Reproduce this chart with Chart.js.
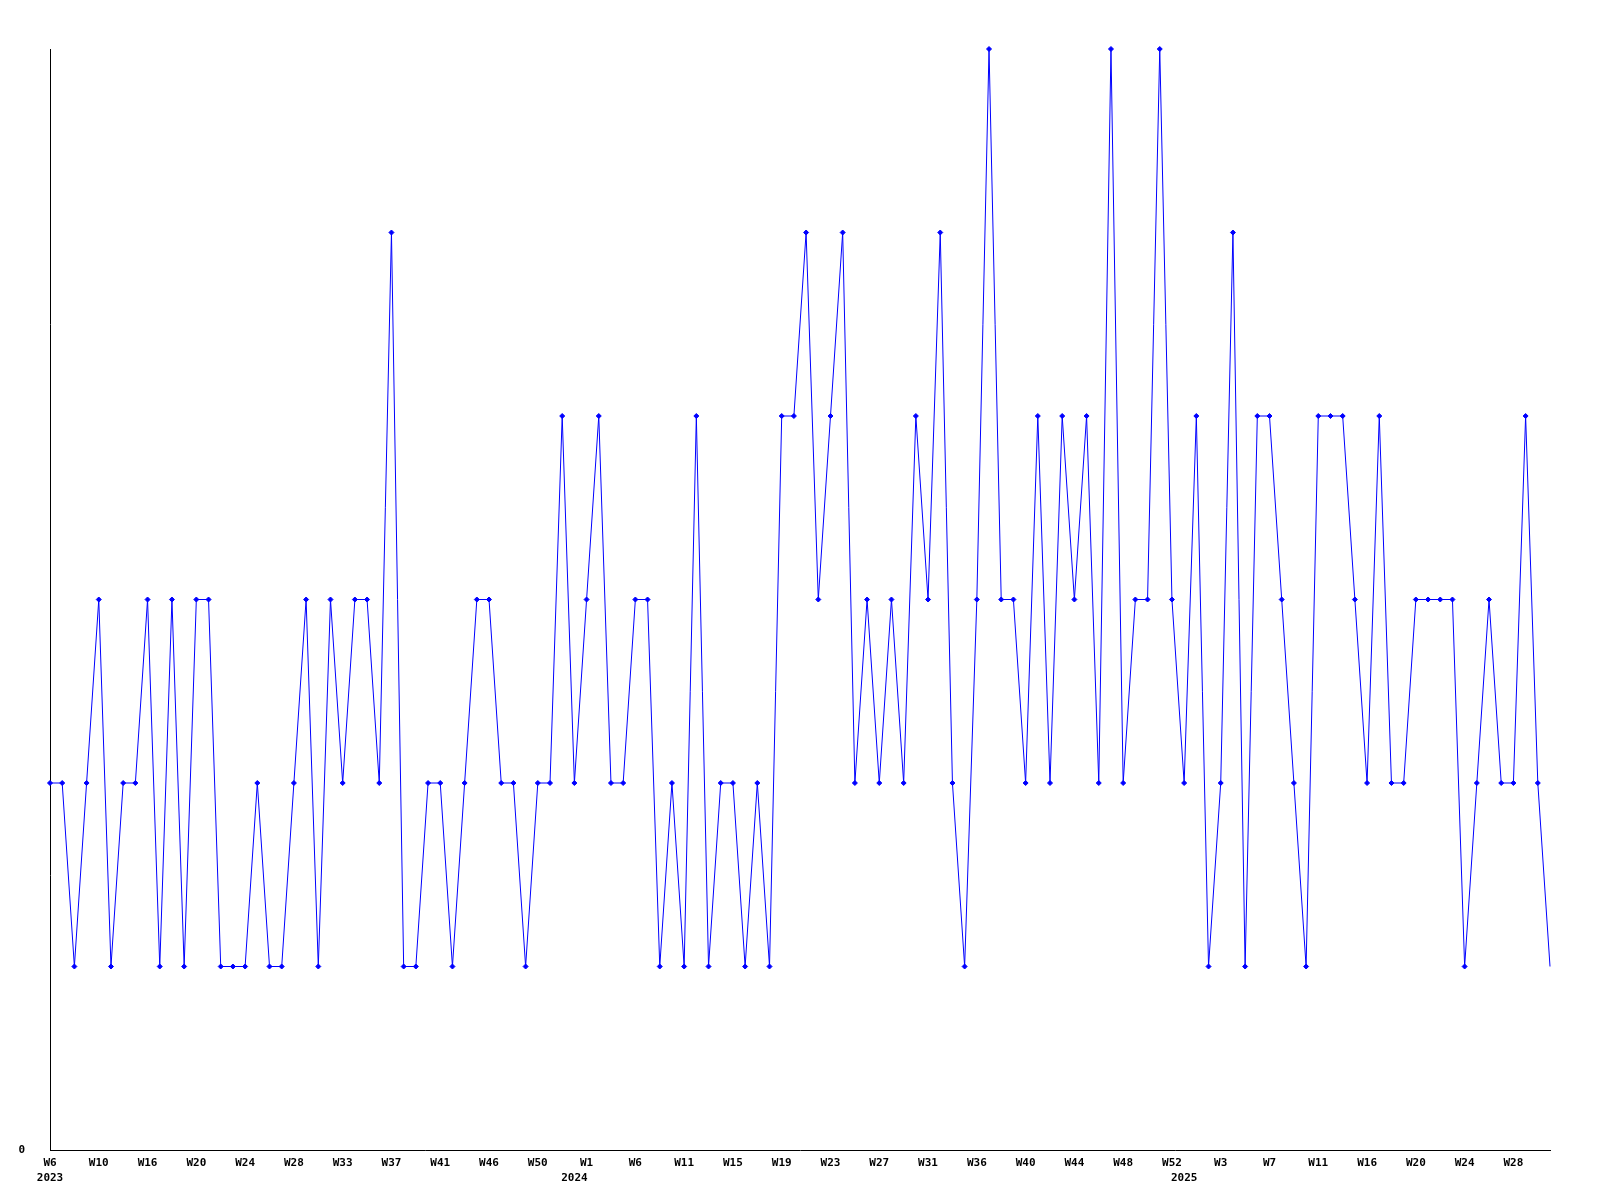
<!DOCTYPE html>
<html>
<head>
<meta charset="utf-8">
<script src="https://cdn.jsdelivr.net/npm/chart.js@4.4.1/dist/chart.umd.min.js"></script>
<style>
  html, body { margin: 0; padding: 0; background: #ffffff; }
  #wrap { width: 1600px; height: 1200px; }
</style>
</head>
<body>
<div id="wrap"><canvas id="c" width="1600" height="1200"></canvas></div>
<script>
// Week numbers of each data point (2023 W6 … 2025 W31)
const weeks = [
  6, 7, 8, 9, 10, 11, 13, 14, 16, 17, 18, 19, 20, 21, 22, 23, 24, 25, 26, 27,
  28, 29, 30, 32, 33, 34, 35, 36, 37, 38, 39, 40, 41, 42, 43, 45, 46, 47, 48, 49,
  50, 51, 52,
  0, 1, 2, 3, 4, 6, 7, 8, 10, 11, 12, 13, 14, 15, 16, 17, 18, 19, 20, 21, 22,
  23, 24, 25, 26, 27, 28, 29, 30, 31, 32, 33, 34, 36, 37, 38, 39, 40, 41, 42, 43,
  44, 45, 46, 47, 48, 49, 50, 51, 52,
  0, 1, 2, 3, 4, 5, 6, 7, 8, 9, 10, 11, 12, 13, 15, 16, 17, 18, 19, 20, 21, 22,
  23, 24, 25, 26, 27, 28, 29, 30, 31
];
// Index of the first point of each year, and the year names
const yearStartIndex = [0, 43, 93];
const yearNames = ['2023', '2024', '2025'];

// Series values
const values = [
  2, 2, 1, 2, 3, 1, 2, 2, 3, 1, 3, 1, 3, 3, 1, 1, 1, 2, 1, 1,
  2, 3, 1, 3, 2, 3, 3, 2, 5, 1, 1, 2, 2, 1, 2, 3, 3, 2, 2, 1,
  2, 2, 4, 2, 3, 4, 2, 2, 3, 3, 1, 2, 1, 4, 1, 2, 2, 1, 2, 1,
  4, 4, 5, 3, 4, 5, 2, 3, 2, 3, 2, 4, 3, 5, 2, 1, 3, 6, 3, 3,
  2, 4, 2, 4, 3, 4, 2, 6, 2, 3, 3, 6, 3, 2, 4, 1, 2, 5, 1, 4,
  4, 3, 2, 1, 4, 4, 4, 3, 2, 4, 2, 2, 3, 3, 3, 3, 1, 2, 3, 2,
  2, 4, 2, 1
];

// Y-axis tick labels shown
const yTickLabels = { 0: '0' };

const labels = weeks.map(w => 'W' + w);
const FONT = { family: '"DejaVu Sans Mono", "Liberation Mono", monospace', size: 11, weight: 'bold', lineHeight: 1.36 };

new Chart(document.getElementById('c'), {
  type: 'line',
  data: {
    labels: labels,
    datasets: [{
      data: values,
      borderColor: '#0000ff',
      backgroundColor: '#0000ff',
      borderWidth: 1,
      tension: 0,
      fill: false,
      clip: false,
      pointStyle: 'rectRot',
      pointRadius: ctx => (ctx.dataIndex === values.length - 1 ? 0 : 2.5),
      pointBorderWidth: 1,
      pointBorderColor: '#0000ff',
      pointBackgroundColor: '#0000ff'
    }]
  },
  options: {
    responsive: false,
    animation: false,
    devicePixelRatio: 1,
    layout: { padding: { top: 49, right: 50, left: 0, bottom: 0 } },
    plugins: { legend: { display: false }, tooltip: { enabled: false } },
    scales: {
      x: {
        type: 'category',
        offset: false,
        grid: { display: false, drawTicks: false },
        border: { display: true, color: '#000000', width: 1 },
        afterFit: s => { s.height = 50; },
        ticks: {
          autoSkip: false,
          maxRotation: 0,
          minRotation: 0,
          padding: 6,
          color: '#000000',
          font: FONT,
          callback: function (val, i) {
            const wk = (i % 4 === 0) ? labels[i] : '';
            const yi = yearStartIndex.indexOf(i);
            if (yi >= 0) return [wk, yearNames[yi]];
            return wk;
          }
        }
      },
      y: {
        min: 0,
        max: 6,
        grid: { display: false, drawTicks: false },
        border: { display: true, color: '#000000', width: 1 },
        afterFit: s => { s.width = 50; },
        ticks: {
          stepSize: 1,
          padding: 25,
          color: '#000000',
          font: FONT,
          callback: v => (yTickLabels[v] !== undefined ? yTickLabels[v] : '')
        }
      }
    }
  }
});
</script>
</body>
</html>
